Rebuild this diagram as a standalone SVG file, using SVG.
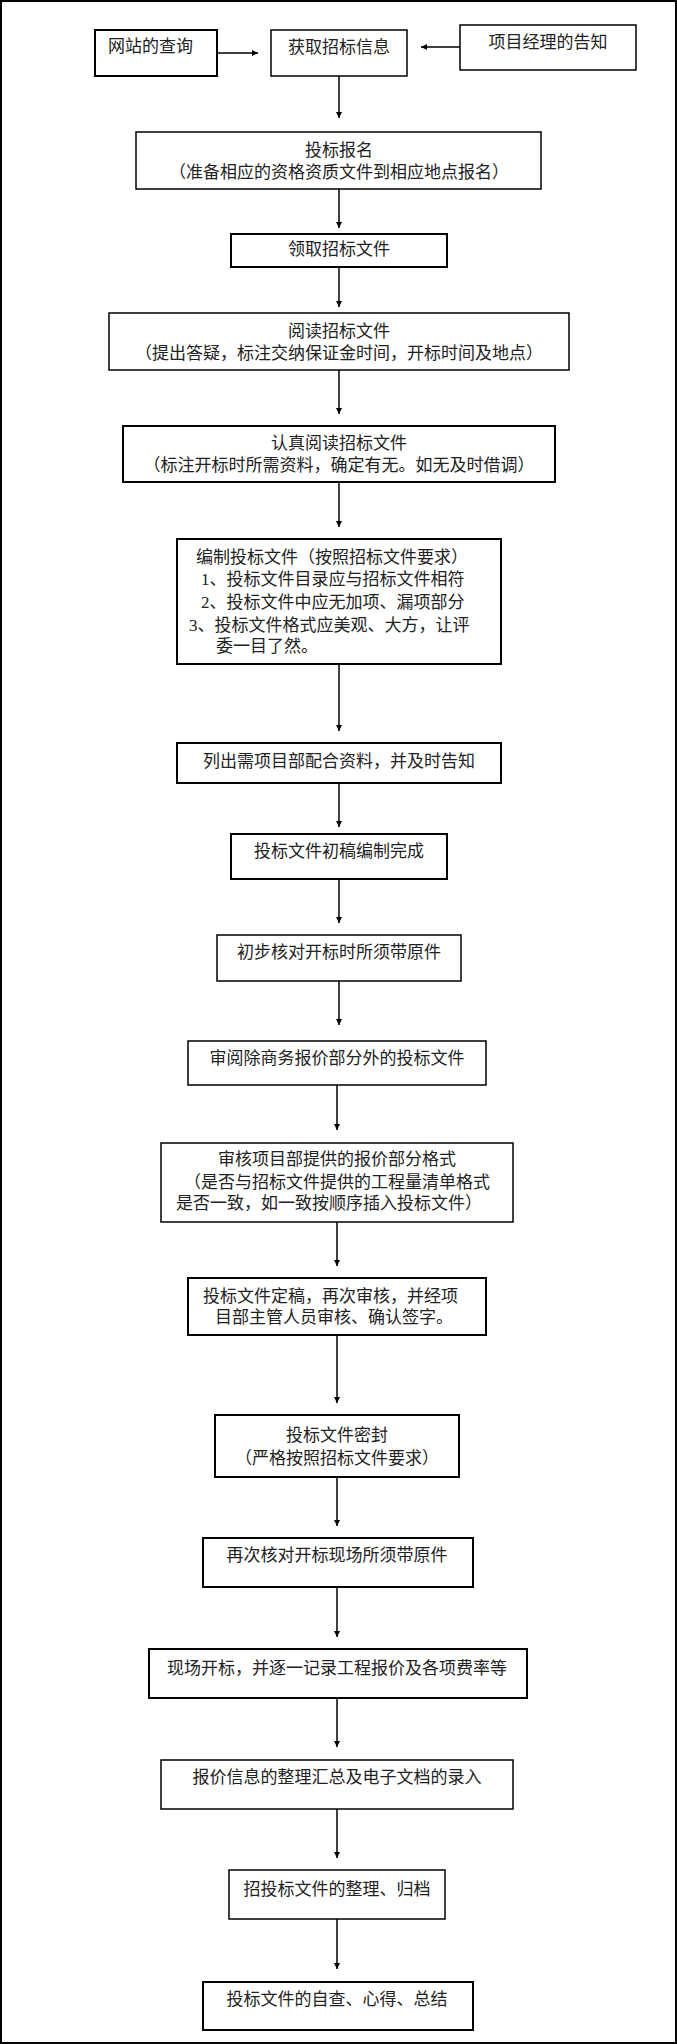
<svg xmlns="http://www.w3.org/2000/svg" width="677" height="2044" viewBox="0 0 677 2044">
<style>
rect{fill:#fff;stroke:#000;stroke-width:1.5}
text{font-family:"Liberation Serif","Noto Sans CJK SC",serif;font-size:17px;fill:#222}
.c{text-anchor:middle}
#edges line{stroke:#000;stroke-width:1.5;marker-end:url(#a)}
</style>
<defs><marker id="a" viewBox="0 0 10 10" refX="10" refY="5" markerWidth="6" markerHeight="6" orient="auto" markerUnits="userSpaceOnUse"><path d="M0,0L10,5L0,10z" fill="#000"/></marker></defs>
<rect x="1" y="1" width="675" height="2042" style="stroke-width:2"/>
<g id="edges">
<line x1="217" y1="53" x2="258" y2="53"/>
<line x1="460" y1="47" x2="421" y2="47"/>
<line x1="339" y1="76" x2="339" y2="118"/>
<line x1="339" y1="189" x2="339" y2="228"/>
<line x1="339" y1="267" x2="339" y2="307"/>
<line x1="339" y1="370" x2="339" y2="414"/>
<line x1="339" y1="482" x2="339" y2="527"/>
<line x1="339" y1="664" x2="339" y2="731"/>
<line x1="339" y1="783" x2="339" y2="827"/>
<line x1="339" y1="879" x2="339" y2="923"/>
<line x1="339" y1="981" x2="339" y2="1025"/>
<line x1="337" y1="1085" x2="337" y2="1130"/>
<line x1="337" y1="1222" x2="337" y2="1266"/>
<line x1="337" y1="1335" x2="337" y2="1403"/>
<line x1="337" y1="1477" x2="337" y2="1526"/>
<line x1="337" y1="1587" x2="337" y2="1637"/>
<line x1="337" y1="1698" x2="337" y2="1747"/>
<line x1="337" y1="1809" x2="337" y2="1858"/>
<line x1="337" y1="1919" x2="337" y2="1969"/>
</g>
<g id="n1"><rect x="95" y="30" width="122" height="46" style="stroke-width:2"/><text x="108" y="52">网站的查询</text></g>
<g id="n2"><rect x="271" y="30" width="136" height="46"/><text class="c" x="339" y="53">获取招标信息</text></g>
<g id="n3"><rect x="460" y="25" width="176" height="45"/><text class="c" x="548" y="48">项目经理的告知</text></g>
<g id="n4"><rect x="136" y="132" width="405" height="57"/><text class="c" x="339" y="156">投标报名</text><text class="c" x="339" y="178">（准备相应的资格资质文件到相应地点报名）</text></g>
<g id="n5"><rect x="231" y="234" width="216" height="33" style="stroke-width:2"/><text class="c" x="339" y="255">领取招标文件</text></g>
<g id="n6"><rect x="109" y="313" width="460" height="57"/><text class="c" x="339" y="337">阅读招标文件</text><text class="c" x="339" y="359">（提出答疑，标注交纳保证金时间，开标时间及地点）</text></g>
<g id="n7"><rect x="123" y="426" width="432" height="56" style="stroke-width:2"/><text class="c" x="339" y="449">认真阅读招标文件</text><text class="c" x="339" y="471">（标注开标时所需资料，确定有无。如无及时借调）</text></g>
<g id="n8"><rect x="177" y="539" width="324" height="125" style="stroke-width:2"/><text x="196" y="563">编制投标文件（按照招标文件要求）</text><text x="201" y="585">1、投标文件目录应与招标文件相符</text><text x="201" y="608">2、投标文件中应无加项、漏项部分</text><text x="189" y="631">3、投标文件格式应美观、大方，让评</text><text x="216" y="652">委一目了然。</text></g>
<g id="n9"><rect x="177" y="743" width="324" height="40" style="stroke-width:2"/><text class="c" x="339" y="767">列出需项目部配合资料，并及时告知</text></g>
<g id="n10"><rect x="231" y="834" width="216" height="45" style="stroke-width:2"/><text class="c" x="339" y="857">投标文件初稿编制完成</text></g>
<g id="n11"><rect x="217" y="935" width="244" height="46"/><text class="c" x="339" y="958">初步核对开标时所须带原件</text></g>
<g id="n12"><rect x="188" y="1041" width="298" height="44"/><text class="c" x="337" y="1064">审阅除商务报价部分外的投标文件</text></g>
<g id="n13"><rect x="161" y="1143" width="352" height="79"/><text class="c" x="337" y="1165">审核项目部提供的报价部分格式</text><text class="c" x="337" y="1188">（是否与招标文件提供的工程量清单格式</text><text x="176" y="1209">是否一致，如一致按顺序插入投标文件）</text></g>
<g id="n14"><rect x="188" y="1278" width="298" height="57" style="stroke-width:2"/><text x="203" y="1302">投标文件定稿，再次审核，并经项</text><text x="215" y="1323">目部主管人员审核、确认签字。</text></g>
<g id="n15"><rect x="215" y="1415" width="244" height="62" style="stroke-width:2"/><text class="c" x="337" y="1441">投标文件密封</text><text class="c" x="337" y="1464">（严格按照招标文件要求）</text></g>
<g id="n16"><rect x="203" y="1538" width="270" height="49" style="stroke-width:2"/><text class="c" x="337" y="1561">再次核对开标现场所须带原件</text></g>
<g id="n17"><rect x="149" y="1649" width="378" height="49" style="stroke-width:2"/><text class="c" x="337" y="1674">现场开标，并逐一记录工程报价及各项费率等</text></g>
<g id="n18"><rect x="161" y="1760" width="352" height="49"/><text class="c" x="337" y="1783">报价信息的整理汇总及电子文档的录入</text></g>
<g id="n19"><rect x="229" y="1870" width="216" height="49"/><text class="c" x="337" y="1895">招投标文件的整理、归档</text></g>
<g id="n20"><rect x="203" y="1982" width="270" height="48" style="stroke-width:2"/><text class="c" x="337" y="2005">投标文件的自查、心得、总结</text></g>
</svg>
